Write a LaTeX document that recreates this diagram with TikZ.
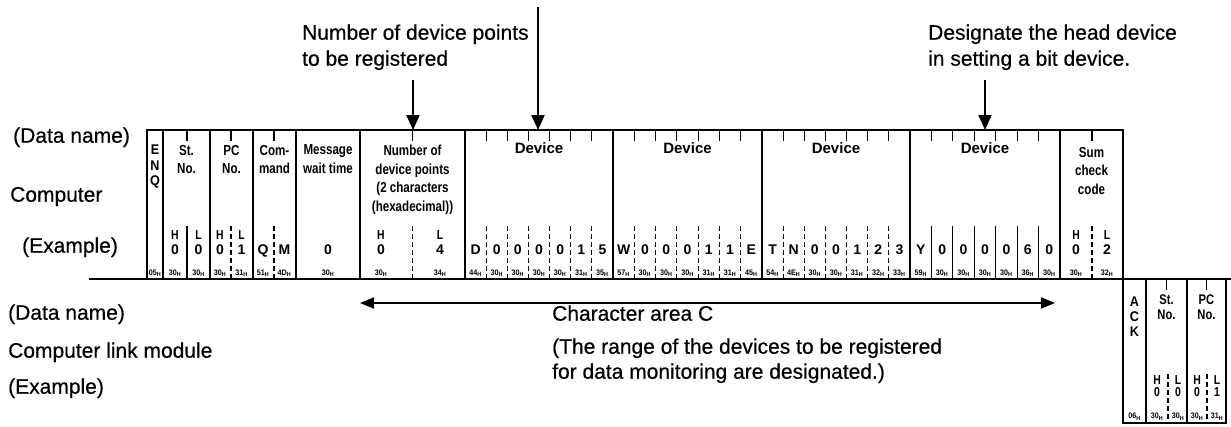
\documentclass[tikz,border=0pt]{standalone}
\usepackage{fontspec}
\setmainfont{Liberation Sans}
\newfontfamily\lblfont[FakeBold=0.5]{Liberation Sans}
\newfontfamily\condbf[FakeStretch=0.8]{Liberation Sans Bold}
\newfontfamily\semicondbf[FakeStretch=0.9]{Liberation Sans Bold}
\usetikzlibrary{arrows.meta}

% hexadecimal code with a small subscript H
\newcommand{\hexc}[1]{#1\textsubscript{H}}

\tikzset{
  bxline/.style={line width=1.8pt, line cap=rect},
  subsolid/.style={line width=1.2pt},
  subdash/.style={line width=1.2pt, dash pattern=on 5pt off 3pt},
  tickln/.style={line width=1.2pt},
  sidelbl/.style={anchor=west, inner sep=0pt, text height=0.75em, text depth=0.21em,
                  font=\lblfont\fontsize{21}{24}\selectfont},
  notelbl/.style={anchor=west, inner sep=0pt, text height=0.75em, text depth=0.21em,
                  font=\lblfont\fontsize{21}{25}\selectfont},
  hdrtxt/.style={anchor=north, inner sep=0pt, align=center,
                 font=\condbf\fontsize{14.5}{18.5}\selectfont},
  devhdr/.style={inner sep=0pt, text height=10.7pt, text depth=0pt,
                 font=\bfseries\fontsize{15}{16}\selectfont},
  hltxt/.style={inner sep=0pt, text height=9.3pt, text depth=0pt,
                font=\condbf\fontsize{13}{14}\selectfont},
  valtxt/.style={inner sep=0pt, text height=10pt, text depth=0pt,
                 font=\bfseries\fontsize{14}{16}\selectfont},
  hextxt/.style={inner sep=0pt, text height=5.7pt, text depth=0pt,
                 font=\semicondbf\fontsize{8}{9}\selectfont},
  pointer/.style={line width=2pt, -{Triangle[length=15pt,width=13pt]}},
  spanarrow/.style={line width=2pt,
                    {Triangle[length=14pt,width=11pt]}-{Triangle[length=14pt,width=11pt]}},
}

% one "Device" field: start x, end x, index, characters, hex codes, divider style
\newcommand{\devicefield}[6]{%
  \pgfmathsetmacro\cw{(#2-#1)/7}
  \node[devhdr] (devname#3) at ({(#1+#2)/2},148) {Device};
  \foreach \c [count=\k] in {#4} {
    \node[valtxt] (devval#3-\k) at ({#1+(\k-0.5)*\cw},249) {\c};
  }
  \foreach \h [count=\k] in {#5} {
    \node[hextxt] (devhex#3-\k) at ({#1+(\k-0.5)*\cw},272.5) {\hexc{\h}};
  }
  \foreach \k in {1,...,6} {
    \draw[#6] ({#1+\k*\cw},226) -- ({#1+\k*\cw},279);
    \draw[tickln] ({#1+\k*\cw},130) -- ({#1+\k*\cw},141);
  }
}

\begin{document}
\begin{tikzpicture}[x=1pt,y=-1pt]
\fill[white] (0,0) rectangle (1231,426);
\useasboundingbox (0,0) rectangle (1231,426);

% ---- row labels ----
\node[sidelbl] (dnup) at (13,140) {(Data name)};
\node[sidelbl] (cmp) at (10,199) {Computer};
\node[sidelbl] (exup) at (22,250) {(Example)};
\node[sidelbl] (dnlo) at (8,317) {(Data name)};
\node[sidelbl] (clm) at (8,355) {Computer link module};
\node[sidelbl] (exlo) at (8,391) {(Example)};

% ---- request frame (computer side) ----
\foreach \x in {147,163,210,253,296,360,465,613,762,910,1060}
  \draw[bxline] (\x,130) -- (\x,279);
\draw[bxline] (147,130) -- (1123,130);
\draw[bxline] (1123,130) -- (1123,423);
\draw[bxline] (90,279) -- (1231,279);

% ticks on the top edge at the half-field boundaries
\foreach \x in {187,231,274,412.5,1092}
  \draw[tickln] (\x,130) -- (\x,141);

% H/L dividers
\draw[subsolid] (187,226) -- (187,279);
\foreach \x in {231,274,412.5,1092}
  \draw[subdash] (\x,226) -- (\x,279);

% field names
\node[hdrtxt, font=\semicondbf\fontsize{14}{15.5}\selectfont] (henq) at (155,145) {E\\N\\Q};
\node[hdrtxt] (hst) at (186.5,144.8) {St.\\No.};
\node[hdrtxt] (hpc) at (231.5,144.8) {PC\\No.};
\node[hdrtxt] (hcmd) at (274.5,144.8) {Com-\\mand};
\node[hdrtxt] (hmsg) at (328,144.8) {Message\\wait time};
\node[hdrtxt] (hndp) at (412.5,144.8) {Number of\\device points\\(2 characters\\(hexadecimal))};
\node[hdrtxt] (hsum) at (1091.5,146.8) {Sum\\check\\code};

% H / L markers
\node[hltxt] (sth) at (175,235) {H};
\node[hltxt] (stl) at (198.5,235) {L};
\node[hltxt] (pch) at (220,235) {H};
\node[hltxt] (pcl) at (241.5,235) {L};
\node[hltxt] (ndph) at (381,235) {H};
\node[hltxt] (ndpl) at (440,235) {L};
\node[hltxt] (sumh) at (1076,235) {H};
\node[hltxt] (suml) at (1107,235) {L};

% example values
\node[valtxt] (stv1) at (175,249) {0};
\node[valtxt] (stv2) at (198.5,249) {0};
\node[valtxt] (pcv1) at (220,249) {0};
\node[valtxt] (pcv2) at (241.5,249) {1};
\node[valtxt] (cmdv1) at (263,249) {Q};
\node[valtxt] (cmdv2) at (284.5,249) {M};
\node[valtxt] (msgv) at (328,249) {0};
\node[valtxt] (ndpv1) at (381,249) {0};
\node[valtxt] (ndpv2) at (440,249) {4};
\node[valtxt] (sumv1) at (1076,249) {0};
\node[valtxt] (sumv2) at (1107,249) {2};

% hex codes
\node[hextxt] (enqx) at (155,272.5) {\hexc{05}};
\node[hextxt] (stx1) at (175,272.5) {\hexc{30}};
\node[hextxt] (stx2) at (198.5,272.5) {\hexc{30}};
\node[hextxt] (pcx1) at (220,272.5) {\hexc{30}};
\node[hextxt] (pcx2) at (241.5,272.5) {\hexc{31}};
\node[hextxt] (cmdx1) at (263,272.5) {\hexc{51}};
\node[hextxt] (cmdx2) at (284.5,272.5) {\hexc{4D}};
\node[hextxt] (msgx) at (328,272.5) {\hexc{30}};
\node[hextxt] (ndpx1) at (381,272.5) {\hexc{30}};
\node[hextxt] (ndpx2) at (440,272.5) {\hexc{34}};
\node[hextxt] (sumx1) at (1076,272.5) {\hexc{30}};
\node[hextxt] (sumx2) at (1107,272.5) {\hexc{32}};

% device fields
\devicefield{465}{613}{1}{D,0,0,0,0,1,5}{44,30,30,30,30,31,35}{subdash}
\devicefield{613}{762}{2}{W,0,0,0,1,1,E}{57,30,30,30,31,31,45}{subdash}
\devicefield{762}{910}{3}{T,N,0,0,1,2,3}{54,4E,30,30,31,32,33}{subdash}
\devicefield{910}{1060}{4}{Y,0,0,0,0,6,0}{59,30,30,30,30,36,30}{subsolid}

% ---- response frame (computer link module side) ----
\foreach \x in {1146,1187,1226}
  \draw[bxline] (\x,279) -- (\x,423);
\draw[bxline] (1123,423) -- (1226,423);
\foreach \x in {1166.5,1206.5}
  \draw[tickln] (\x,279) -- (\x,290);
\foreach \x in {1168,1207}
  \draw[subdash] (\x,374) -- (\x,423);

\node[hdrtxt, font=\semicondbf\fontsize{14}{15}\selectfont] (hack) at (1134.5,297) {A\\C\\K};
\node[hdrtxt, font=\condbf\fontsize{14}{15}\selectfont] (hst2) at (1166.5,295) {St.\\No.};
\node[hdrtxt, font=\condbf\fontsize{14}{15}\selectfont] (hpc2) at (1206.5,295) {PC\\No.};

\node[hltxt] (st2h) at (1157,380) {H};
\node[hltxt] (st2l) at (1178,380) {L};
\node[hltxt] (pc2h) at (1197,380) {H};
\node[hltxt] (pc2l) at (1217,380) {L};
\node[hltxt] (st2v1) at (1157,392) {0};
\node[hltxt] (st2v2) at (1178,392) {0};
\node[hltxt] (pc2v1) at (1197,392) {0};
\node[hltxt] (pc2v2) at (1217,392) {1};
\node[hextxt] (ackx) at (1134.5,416) {\hexc{06}};
\node[hextxt] (st2x1) at (1157,416) {\hexc{30}};
\node[hextxt] (st2x2) at (1178,416) {\hexc{30}};
\node[hextxt] (pc2x1) at (1197,416) {\hexc{30}};
\node[hextxt] (pc2x2) at (1217,416) {\hexc{31}};

% ---- annotations ----
\node[notelbl] (ndpnote1) at (302,37) {Number of device points};
\node[notelbl] (ndpnote2) at (302,63) {to be registered};
\coordinate (ndptail) at (413,80);
\coordinate (ndphead) at (413,130);
\draw[pointer] (ndptail) -- (ndphead);

\coordinate (devtail) at (538,7);
\coordinate (devhead) at (538,130);
\draw[pointer] (devtail) -- (devhead);

\node[notelbl] (bitnote1) at (928,37) {Designate the head device};
\node[notelbl] (bitnote2) at (928,63) {in setting a bit device.};
\coordinate (bittail) at (985,80);
\coordinate (bithead) at (985,130);
\draw[pointer] (bittail) -- (bithead);

\coordinate (areal) at (360,303);
\coordinate (arear) at (1055,303);
\draw[spanarrow] (areal) -- (arear);
\node[notelbl] (areaname) at (552,318) {Character area C};
\node[notelbl] (range1) at (552,351) {(The range of the devices to be registered};
\node[notelbl] (range2) at (552,376) {for data monitoring are designated.)};
\end{tikzpicture}
\end{document}
